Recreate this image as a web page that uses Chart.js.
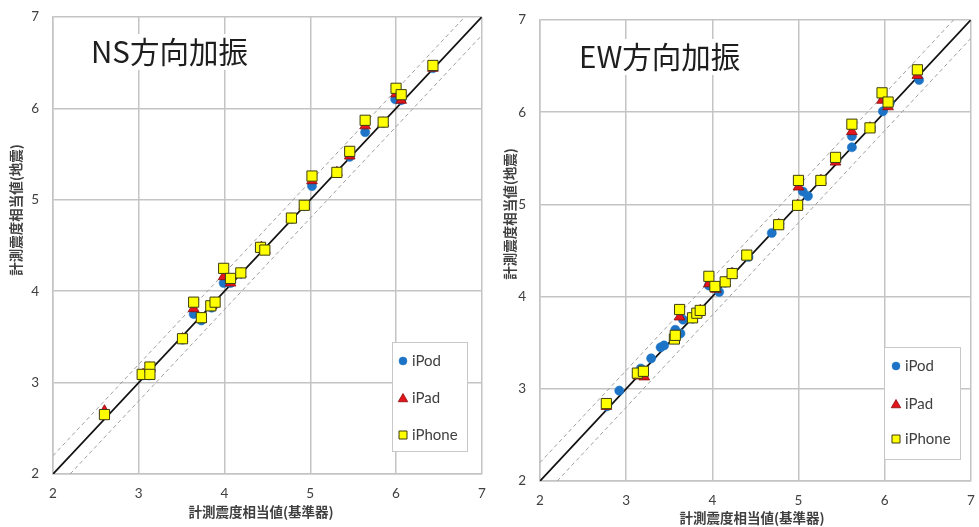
<!DOCTYPE html>
<html>
<head>
<meta charset="utf-8">
<script src="https://cdn.jsdelivr.net/npm/chart.js@4/dist/chart.umd.min.js"></script>
<style>
  html, body { margin: 0; padding: 0; background: #ffffff; }
  #wrap { position: relative; width: 979px; height: 527px; overflow: hidden; background: #ffffff; }
  #ns { position: absolute; left: 0; top: 0; }
  #ew { position: absolute; left: 490px; top: 0; }
</style>
</head>
<body>
<div id="wrap">
  <canvas id="ns" width="490" height="527"></canvas>
  <canvas id="ew" width="489" height="527"></canvas>
</div>
<script>
// Axis ticks and labels
const axisTicks = [2, 3, 4, 5, 6, 7];
const panelTitles = ['NS方向加振', 'EW方向加振'];
const xAxisTitle = '計測震度相当値(基準器)';
const yAxisTitle = '計測震度相当値(地震)';
const seriesNames = ['iPod', 'iPad', 'iPhone'];

// Reference lines: 1:1 line and ±0.2 band
const identityLine = [[2, 2], [7, 7]];
const upperBand = [[2, 2.2], [6.8, 7]];
const lowerBand = [[2.2, 2], [7, 6.8]];

// NS shaking: [reference instrument, device]
const nsIpod = [[2.60,2.65],[3.05,3.08],[3.13,3.15],[3.12,3.08],[3.51,3.47],[3.64,3.75],[3.73,3.68],[3.85,3.82],[3.88,3.86],[3.99,4.09],[4.07,4.09],[4.19,4.19],[4.43,4.47],[4.47,4.45],[4.78,4.79],[4.93,4.93],[5.02,5.15],[5.31,5.30],[5.46,5.47],[5.64,5.74],[5.85,5.84],[5.99,6.10],[6.06,6.09],[6.43,6.44]];
const nsIpad = [[2.60,2.69],[3.05,3.09],[3.13,3.16],[3.12,3.09],[3.51,3.48],[3.64,3.81],[3.73,3.70],[3.85,3.84],[3.88,3.87],[3.99,4.16],[4.07,4.09],[4.19,4.19],[4.43,4.48],[4.47,4.45],[4.78,4.79],[4.93,4.93],[5.02,5.21],[5.31,5.30],[5.46,5.48],[5.64,5.81],[5.85,5.84],[6.00,6.16],[6.06,6.09],[6.43,6.44]];
const nsIphone = [[2.60,2.65],[3.04,3.09],[3.13,3.17],[3.13,3.09],[3.51,3.48],[3.64,3.88],[3.73,3.71],[3.84,3.84],[3.89,3.88],[3.99,4.25],[4.07,4.14],[4.19,4.20],[4.42,4.48],[4.47,4.45],[4.78,4.80],[4.93,4.94],[5.02,5.26],[5.31,5.30],[5.46,5.53],[5.64,5.87],[5.85,5.85],[6.00,6.22],[6.06,6.15],[6.43,6.47]];

// EW shaking: [reference instrument, device]
const ewIpod = [[2.78,2.81],[2.92,2.98],[3.14,3.16],[3.17,3.22],[3.20,3.18],[3.29,3.33],[3.40,3.45],[3.44,3.47],[3.56,3.55],[3.57,3.64],[3.63,3.60],[3.66,3.75],[3.77,3.76],[3.82,3.81],[3.86,3.85],[3.96,4.12],[4.08,4.05],[4.15,4.15],[4.23,4.26],[4.42,4.43],[4.69,4.69],[4.78,4.79],[4.99,4.99],[5.05,5.14],[5.11,5.09],[5.26,5.26],[5.44,5.48],[5.62,5.62],[5.62,5.74],[5.84,5.83],[5.98,6.01],[6.06,6.10],[6.40,6.35]];
const ewIpad = [[2.77,2.81],[3.14,3.14],[3.21,3.13],[3.56,3.55],[3.62,3.78],[3.77,3.76],[3.82,3.81],[3.86,3.85],[3.96,4.14],[4.04,4.08],[4.15,4.15],[4.23,4.25],[4.40,4.44],[4.77,4.78],[4.99,4.99],[5.00,5.19],[5.26,5.26],[5.43,5.46],[5.62,5.79],[5.83,5.83],[5.97,6.13],[6.04,6.06],[6.38,6.40]];
const ewIphone = [[2.77,2.84],[3.13,3.17],[3.20,3.19],[3.56,3.54],[3.57,3.58],[3.62,3.86],[3.77,3.77],[3.82,3.82],[3.86,3.85],[3.96,4.22],[4.03,4.11],[4.15,4.16],[4.23,4.25],[4.40,4.45],[4.77,4.78],[4.99,4.99],[5.00,5.26],[5.26,5.26],[5.43,5.51],[5.62,5.87],[5.83,5.83],[5.97,6.21],[6.04,6.11],[6.38,6.46]];

const markerStyles = [
  { pointStyle: 'circle',   radius: 4.6, backgroundColor: '#1d74c6', borderColor: '#1d74c6', borderWidth: 0.5 },
  { pointStyle: 'triangle', radius: 6.2, backgroundColor: '#e3141b', borderColor: '#8a0a0a', borderWidth: 0.8 },
  { pointStyle: 'rect',     radius: 7.2, backgroundColor: '#ffff00', borderColor: '#3d3d10', borderWidth: 1 }
];

const GRID = '#c4c4c4';
const TEXT = '#404040';

const toXY = pts => pts.map(([x, y]) => ({ x, y }));

function scatterSet(i, pts) {
  const m = markerStyles[i];
  return {
    type: 'scatter',
    label: seriesNames[i],
    data: toXY(pts),
    order: 2 - i,            // iPhone on top, iPod underneath
    pointStyle: m.pointStyle,
    pointRadius: m.radius,
    pointHoverRadius: m.radius,
    pointBackgroundColor: m.backgroundColor,
    pointBorderColor: m.borderColor,
    pointBorderWidth: m.borderWidth
  };
}

function refLine(pts, color, width, dash) {
  return {
    type: 'line',
    data: toXY(pts),
    borderColor: color,
    borderWidth: width,
    borderDash: dash,
    pointRadius: 0,
    fill: false,
    tension: 0,
    order: 5
  };
}

function marker(ctx, i, x, y, r) {
  const m = markerStyles[i];
  ctx.save();
  ctx.fillStyle = m.backgroundColor;
  ctx.strokeStyle = m.borderColor;
  ctx.lineWidth = m.borderWidth;
  ctx.beginPath();
  if (m.pointStyle === 'circle') {
    ctx.arc(x, y, r, 0, Math.PI * 2);
  } else if (m.pointStyle === 'triangle') {
    ctx.moveTo(x, y - r);
    ctx.lineTo(x + r * 0.866, y + r * 0.5);
    ctx.lineTo(x - r * 0.866, y + r * 0.5);
    ctx.closePath();
  } else {
    ctx.rect(x - r, y - r, 2 * r, 2 * r);
  }
  ctx.fill();
  ctx.stroke();
  ctx.restore();
}

// Panel caption (with its white text box), axis titles and boxed legend
const panelDecor = {
  id: 'panelDecor',
  beforeDatasetsDraw(chart, args, o) {
    const ctx = chart.ctx;
    ctx.save();
    ctx.font = '29.5px "Noto Sans CJK JP"';
    ctx.textBaseline = 'middle';
    ctx.textAlign = 'left';
    const w = ctx.measureText(o.title).width;
    ctx.fillStyle = '#ffffff';
    ctx.fillRect(o.titleX - 6, o.titleY - 18, w + 12, 36);
    ctx.fillStyle = '#1e1e1e';
    ctx.fillText(o.title, o.titleX, o.titleY);
    ctx.restore();
  },
  afterDraw(chart, args, o) {
    const ctx = chart.ctx;
    ctx.save();
    ctx.font = 'bold 13.5px "Noto Sans CJK JP"';
    ctx.fillStyle = TEXT;
    ctx.textAlign = 'center';
    ctx.textBaseline = 'middle';
    ctx.fillText(xAxisTitle, o.xTitle[0], o.xTitle[1]);
    ctx.translate(o.yTitle[0], o.yTitle[1]);
    ctx.rotate(-Math.PI / 2);
    ctx.fillText(yAxisTitle, 0, 0);
    ctx.restore();

    const [lx, ly, lw, lh] = o.legendBox;
    ctx.save();
    ctx.fillStyle = '#ffffff';
    ctx.fillRect(lx, ly, lw, lh);
    ctx.strokeStyle = '#c8c8c8';
    ctx.lineWidth = 1;
    ctx.strokeRect(lx + 0.5, ly + 0.5, lw, lh);
    const sizes = [4, 5.5, 4];
    seriesNames.forEach((name, i) => {
      const y = o.legendRows[i];
      marker(ctx, i, o.legendMarkerX, y + (i === 1 ? 1 : 0), sizes[i]);
      ctx.font = '15px Lato';
      ctx.fillStyle = TEXT;
      ctx.textAlign = 'left';
      ctx.textBaseline = 'middle';
      ctx.fillText(name, o.legendMarkerX + 9, y);
    });
    ctx.restore();
  }
};

// Fixed axis band sizes; the plot frame comes from layout padding alone
function fixBand(prop, size) {
  return s => {
    s[prop] = size;
    s.paddingLeft = 0;
    s.paddingRight = 0;
    s.paddingTop = 0;
    s.paddingBottom = 0;
  };
}

function axisScales(yWidth, xHeight) {
  const common = {
    type: 'linear',
    min: axisTicks[0],
    max: axisTicks[axisTicks.length - 1],
    afterBuildTicks: s => { s.ticks = axisTicks.map(v => ({ value: v })); },
    grid: { color: GRID, lineWidth: 1.5, drawTicks: false },
    border: { color: GRID, width: 1.5 },
    ticks: { color: TEXT, font: { family: 'Lato', size: 13.5 } }
  };
  return {
    x: Object.assign({}, common, {
      position: 'bottom',
      afterFit: fixBand('height', xHeight),
      ticks: Object.assign({}, common.ticks, { padding: 12 })
    }),
    y: Object.assign({}, common, {
      position: 'left',
      afterFit: fixBand('width', yWidth),
      ticks: Object.assign({}, common.ticks, { padding: 14 })
    })
  };
}

function makeChart(id, series, decor, yWidth, xHeight, padding) {
  return new Chart(document.getElementById(id), {
    type: 'scatter',
    data: {
      datasets: [
        scatterSet(0, series[0]),
        scatterSet(1, series[1]),
        scatterSet(2, series[2]),
        refLine(identityLine, '#111111', 1.8, []),
        refLine(upperBand, '#a0a0a0', 1, [4, 3]),
        refLine(lowerBand, '#a0a0a0', 1, [4, 3])
      ]
    },
    options: {
      responsive: false,
      devicePixelRatio: 1,
      animation: false,
      layout: { padding },
      scales: axisScales(yWidth, xHeight),
      plugins: {
        legend: { display: false },
        tooltip: { enabled: false },
        panelDecor: decor
      }
    },
    plugins: [panelDecor]
  });
}

makeChart('ns', [nsIpod, nsIpad, nsIphone], {
  title: panelTitles[0], titleX: 91, titleY: 52,
  xTitle: [261, 512], yTitle: [16, 210],
  legendBox: [392, 342, 75, 109], legendRows: [361, 398, 435], legendMarkerX: 403
}, 53, 53, { top: 17, right: 6, left: 0, bottom: 0 });

makeChart('ew', [ewIpod, ewIpad, ewIphone], {
  title: panelTitles[1], titleX: 89, titleY: 57,
  xTitle: [262, 518], yTitle: [20, 214],
  legendBox: [394, 347, 76, 112], legendRows: [366, 404, 439], legendMarkerX: 406
}, 50, 46, { top: 20, right: 2, left: 0, bottom: 0 });
</script>
</body>
</html>
